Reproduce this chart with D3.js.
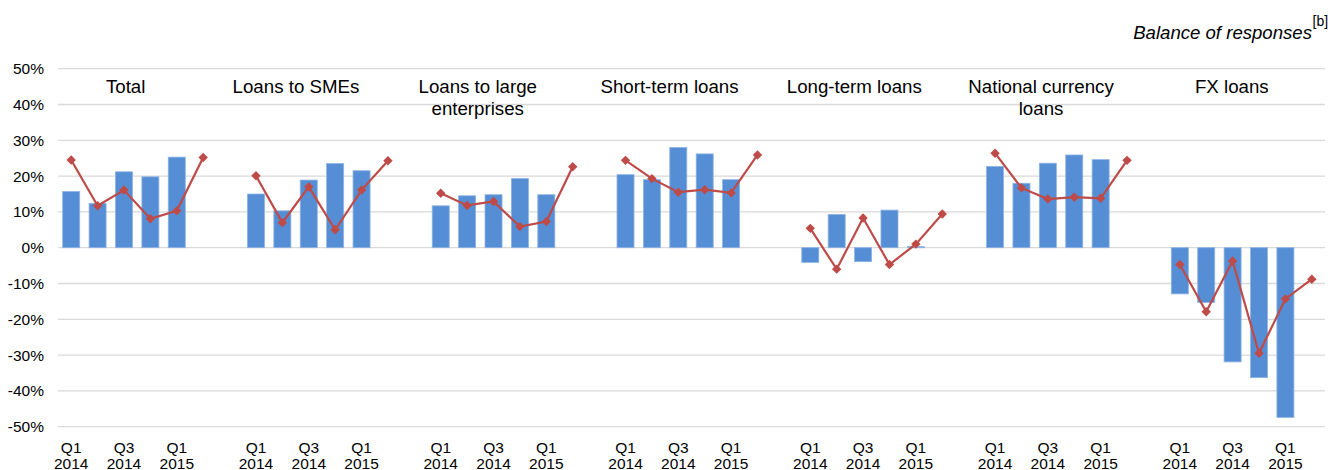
<!DOCTYPE html>
<html>
<head>
<meta charset="utf-8">
<script src="https://cdn.jsdelivr.net/npm/d3@7"></script>
<style>
  html, body { margin: 0; padding: 0; background: #fff; }
  svg { display: block; font-family: "Liberation Sans", Arial, sans-serif; }
</style>
</head>
<body>
<svg id="chart" width="1343" height="470"></svg>
<script>
// Panels (groups of quarters) and their titles
const groups = ["Total", "Loans to SMEs", "Loans to large enterprises", "Short-term loans",
                "Long-term loans", "National currency loans", "FX loans"];
const groupTitles = [["Total"], ["Loans to SMEs"], ["Loans to large", "enterprises"], ["Short-term loans"],
                     ["Long-term loans"], ["National currency", "loans"], ["FX loans"]];

// Quarters within each panel
const quarters = ["Q1 2014", "Q2 2014", "Q3 2014", "Q4 2014", "Q1 2015", "Q2 2015"];
const tickQuarters = ["Q1 2014", "Q3 2014", "Q1 2015"];

// Balance of responses, % – past change (bars, Q1 2014 – Q1 2015)
const pastChange = [
  [15.7, 12.4, 21.2, 19.8, 25.3],
  [15.0, 10.3, 18.9, 23.5, 21.5],
  [11.7, 14.5, 14.8, 19.3, 14.8],
  [20.4, 19.0, 28.0, 26.2, 19.0],
  [-4.1, 9.3, -3.9, 10.5, 0.3],
  [22.7, 18.0, 23.6, 25.9, 24.6],
  [-12.9, -15.3, -31.9, -36.3, -47.4]
];

// Balance of responses, % – expected change (line, Q1 2014 – Q2 2015)
const expectedChange = [
  [24.5, 11.7, 16.1, 8.1, 10.3, 25.2],
  [20.1, 7.0, 17.0, 5.0, 16.1, 24.3],
  [15.2, 11.8, 12.9, 5.9, 7.3, 22.6],
  [24.4, 19.3, 15.5, 16.2, 15.3, 25.9],
  [5.4, -6.0, 8.3, -4.7, 1.0, 9.4],
  [26.4, 16.7, 13.6, 14.1, 13.8, 24.4],
  [-4.7, -17.9, -3.7, -29.5, -14.3, -8.8]
];

const yTicks = [50, 40, 30, 20, 10, 0, -10, -20, -30, -40, -50];

// ---- layout ----
const plot = { left: 58, right: 1325, top: 68.7, bottom: 426.7 };
const titleShift = [-11.5, -26, -29, -22, -22, -20, -14]; // title offset from panel centre
const barColor = "#558ED5", barEdge = "#8EB4E3", lineColor = "#BE4B48";

const svg = d3.select("#chart");

// One band per quarter, with an empty band between panels
const slots = [];
groups.forEach((g, gi) => {
  quarters.forEach(q => slots.push(g + "|" + q));
  if (gi < groups.length - 1) slots.push("gap" + gi);
});

const pi = 0.355;
const x = d3.scaleBand().domain(slots).range([plot.left, plot.right])
  .paddingInner(pi).paddingOuter(pi / 2);
const y = d3.scaleLinear().domain([-50, 50]).range([plot.bottom, plot.top]);

// Gridlines
svg.append("g")
  .selectAll("line").data(yTicks).join("line")
  .attr("x1", plot.left).attr("x2", plot.right)
  .attr("y1", d => y(d)).attr("y2", d => y(d))
  .attr("stroke", "#D9D9D9").attr("stroke-width", 1.3);

// Y axis labels
const yAxis = d3.axisLeft(y).tickValues(yTicks).tickFormat(d => d + "%").tickSize(0).tickPadding(0);
const yg = svg.append("g").attr("transform", `translate(44,0)`).call(yAxis);
yg.select(".domain").remove();
yg.selectAll("text").attr("font-size", 15.5).attr("fill", "#000")
  .attr("font-family", "Liberation Sans, Arial, sans-serif");

// X axis labels (two lines each)
const xLabels = [];
groups.forEach(g => tickQuarters.forEach(q => xLabels.push({ key: g + "|" + q, q })));
const xl = svg.append("g").selectAll("text").data(xLabels).join("text")
  .attr("x", d => x(d.key) + x.bandwidth() / 2)
  .attr("text-anchor", "middle").attr("font-size", 15.5).attr("fill", "#000");
xl.append("tspan").attr("x", d => x(d.key) + x.bandwidth() / 2).attr("y", 452.5).text(d => d.q.split(" ")[0]);
xl.append("tspan").attr("x", d => x(d.key) + x.bandwidth() / 2).attr("y", 468.5).text(d => d.q.split(" ")[1]);

// Panels
groups.forEach((g, gi) => {
  const pg = svg.append("g");
  const bars = pastChange[gi].map((v, i) => ({ key: g + "|" + quarters[i], v }));
  pg.selectAll("rect").data(bars).join("rect")
    .attr("x", d => x(d.key))
    .attr("width", x.bandwidth())
    .attr("y", d => y(Math.max(0, d.v)))
    .attr("height", d => Math.abs(y(d.v) - y(0)))
    .attr("fill", barColor).attr("stroke", barEdge).attr("stroke-width", 0.8);

  const pts = expectedChange[gi].map((v, i) => ({ key: g + "|" + quarters[i], v }));
  const line = d3.line().x(d => x(d.key) + x.bandwidth() / 2).y(d => y(d.v));
  pg.append("path").datum(pts).attr("d", line)
    .attr("fill", "none").attr("stroke", lineColor).attr("stroke-width", 2.2);
  pg.selectAll("path.mk").data(pts).join("path").attr("class", "mk")
    .attr("d", d3.symbol(d3.symbolSquare, 44)())
    .attr("transform", d => `translate(${x(d.key) + x.bandwidth() / 2},${y(d.v)}) rotate(45)`)
    .attr("fill", lineColor);

  // Panel title
  const first = x(g + "|" + quarters[0]), last = x(g + "|" + quarters[5]) + x.bandwidth();
  const cx = (first + last) / 2 + titleShift[gi];
  const t = pg.append("text").attr("text-anchor", "middle").attr("font-size", 18.7).attr("fill", "#000");
  groupTitles[gi].forEach((line, li) => {
    t.append("tspan").attr("x", cx).attr("y", 92.5 + li * 22).text(line);
  });
});

// Unit note
svg.append("text").attr("x", 1312).attr("y", 38.5).attr("text-anchor", "end")
  .attr("font-size", 18.6).attr("font-style", "italic").attr("fill", "#000").text("Balance of responses");
svg.append("text").attr("x", 1312.5).attr("y", 26).attr("font-size", 14).attr("fill", "#000").text("[b]");
</script>
</body>
</html>
